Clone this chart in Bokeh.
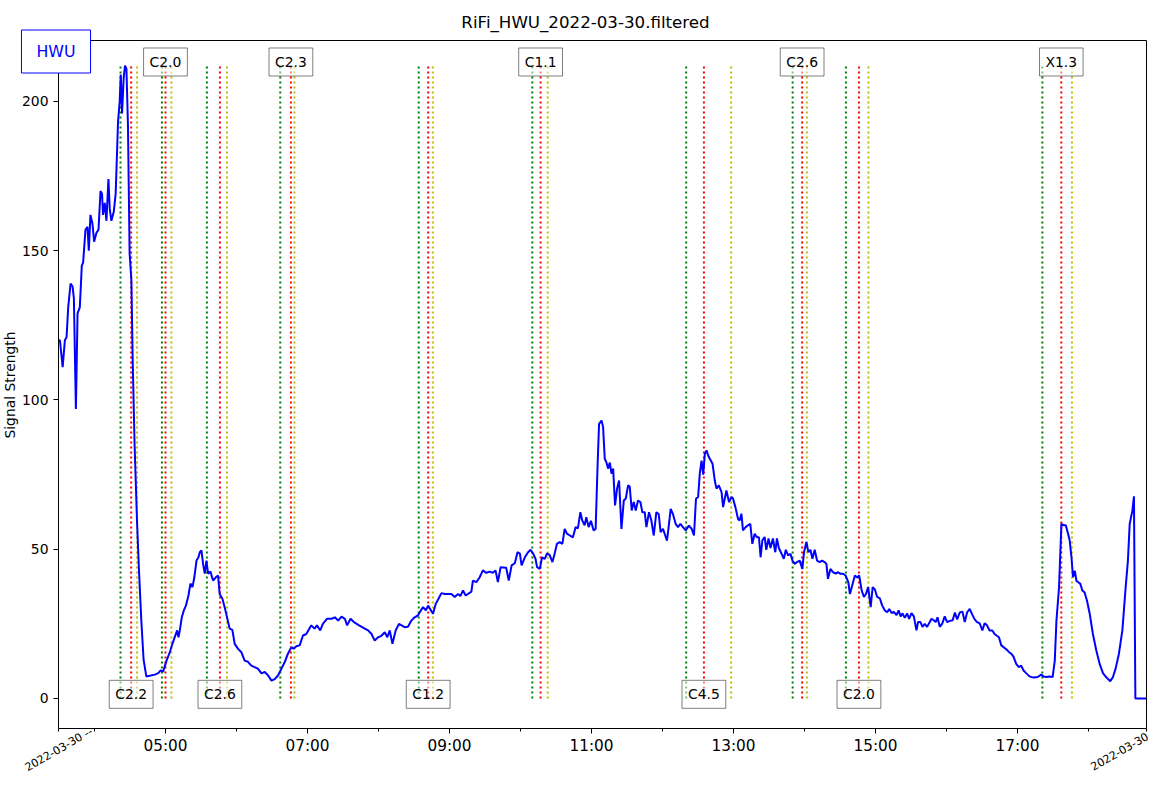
import math
from bokeh.plotting import figure
from bokeh.models import Range1d, FixedTicker, Label, LinearAxis
from bokeh.embed import file_html
from bokeh.resources import INLINE

station = "HWU"
title_text = "RiFi_HWU_2022-03-30.filtered"
date_text = "2022-03-30"
y_label = "Signal Strength"

# time in minutes after 00:00 UTC, signal strength
times = [
    209.6, 210.8, 213.1, 215.0, 216.4, 217.8, 219.8, 221.5, 222.6, 224.3,
    225.7, 227.6, 229.3, 230.4, 232.4, 234.1, 235.2, 236.6, 238.3, 239.7,
    241.7, 243.4, 245.1, 246.4, 247.2, 248.7, 250.1, 251.8, 252.9, 254.3,
    256.3, 257.9, 259.9, 261.3, 262.2, 263.3, 264.7, 265.8, 267.0, 268.3,
    269.7, 271.2, 272.3, 273.9, 275.9, 277.6, 279.6, 281.5, 283.8, 286.6,
    291.0, 293.9, 295.9, 298.0, 300.9, 303.7, 305.9, 308.2, 309.9, 311.0,
    312.1, 313.8, 315.5, 317.2, 319.4, 321.1, 322.8, 324.4, 326.2, 327.9,
    329.0, 330.4, 331.8, 333.2, 334.6, 336.0, 338.0, 340.2, 342.5, 344.4,
    345.8, 348.1, 350.0, 352.0, 354.2, 356.5, 358.5, 361.2, 364.1, 366.9,
    369.7, 372.5, 375.3, 378.1, 381.1, 383.9, 386.7, 389.6, 392.3, 395.1,
    398.0, 400.8, 403.5, 406.4, 408.3, 410.6, 413.4, 416.2, 419.0, 423.2,
    426.0, 428.0, 430.8, 433.0, 436.4, 440.4, 443.2, 445.9, 448.8, 451.6,
    453.5, 456.4, 459.2, 463.6, 468.4, 471.2, 474.1, 476.8, 479.6, 482.5,
    485.3, 487.5, 489.5, 491.8, 494.5, 497.3, 502.1, 504.9, 507.8, 510.5,
    513.3, 515.8, 517.7, 520.0, 521.9, 526.1, 528.4, 530.7, 533.2, 536.0,
    541.6, 544.4, 547.2, 549.2, 551.4, 553.7, 558.5, 559.8, 562.7, 565.5,
    568.2, 571.1, 573.9, 576.7, 578.9, 580.9, 583.2, 587.9, 590.1, 592.5,
    595.2, 597.5, 599.5, 600.9, 603.7, 606.4, 608.5, 610.7, 612.7, 614.0,
    616.3, 618.2, 620.5, 622.4, 624.7, 627.0, 628.9, 630.8, 633.1, 635.4,
    637.3, 639.3, 641.6, 644.3, 646.6, 648.5, 650.6, 652.2, 654.2, 655.6,
    657.6, 659.5, 661.8, 663.5, 665.1, 666.4, 668.5, 669.8, 671.2, 672.7,
    674.0, 675.5, 676.9, 678.3, 679.9, 681.6, 683.3, 685.3, 687.3, 689.0,
    690.9, 692.3, 694.0, 695.7, 697.4, 699.3, 701.3, 703.0, 705.0, 706.4,
    708.6, 710.6, 712.6, 714.8, 716.8, 718.4, 720.4, 721.8, 723.8, 725.5,
    726.9, 728.8, 731.1, 733.1, 735.1, 737.3, 739.6, 742.3, 744.7, 746.6,
    748.3, 750.1, 751.5, 753.0, 754.4, 755.8, 757.2, 758.6, 760.0, 762.3,
    764.2, 765.6, 767.6, 769.9, 771.2, 772.6, 774.0, 776.2, 778.3, 779.6,
    781.6, 783.8, 785.2, 786.7, 788.0, 790.3, 792.2, 794.2, 795.9, 797.9,
    799.8, 801.5, 802.9, 804.4, 806.3, 807.7, 809.6, 811.3, 813.3, 815.3,
    816.7, 818.3, 820.6, 822.5, 824.2, 826.1, 828.1, 829.8, 831.7, 833.7,
    835.9, 838.2, 839.6, 841.6, 843.3, 845.0, 846.7, 848.6, 850.6, 852.8,
    854.9, 857.0, 858.5, 859.8, 861.9, 864.0, 866.3, 868.3, 870.2, 872.6,
    874.7, 877.0, 878.4, 880.7, 882.6, 884.6, 886.2, 888.3, 890.2, 891.9,
    893.8, 895.9, 897.6, 899.5, 901.4, 903.7, 905.6, 907.9, 909.9, 911.6,
    913.6, 915.5, 917.8, 919.5, 921.2, 922.8, 924.8, 926.7, 928.4, 930.4,
    932.4, 934.6, 936.0, 938.0, 939.7, 941.6, 943.6, 945.9, 947.3, 949.2,
    950.9, 952.4, 954.3, 956.3, 958.5, 960.5, 962.8, 965.2, 967.1, 969.0,
    971.2, 973.5, 975.4, 977.4, 979.6, 981.9, 983.8, 985.8, 988.0, 990.3,
    992.2, 994.2, 996.4, 998.7, 1000.6, 1002.6, 1004.3, 1006.3, 1008.2, 1010.5,
    1012.7, 1014.7, 1016.6, 1018.9, 1021.1, 1023.1, 1025.1, 1027.3, 1030.1, 1033.5,
    1037.1, 1040.0, 1041.9, 1044.4, 1047.0, 1049.7, 1051.5, 1052.9, 1055.1, 1057.1,
    1059.1, 1060.8, 1062.7, 1064.1, 1065.6, 1066.9, 1068.4, 1069.8, 1071.1, 1073.1,
    1074.8, 1076.7, 1078.7, 1081.0, 1083.7, 1086.6, 1089.4, 1092.2, 1095.0, 1098.4,
    1100.6, 1102.9, 1105.7, 1108.6, 1111.4, 1113.3, 1114.8, 1117.1, 1118.4, 1119.6,
    1129.0,
]
signal = [
    120, 120, 111, 120, 121, 131, 139, 138, 134, 97,
    129, 131, 145, 146, 157, 158, 150, 162, 159, 153,
    156, 157, 170, 169, 162, 166, 160, 174, 164, 160,
    163, 169, 193, 200, 209, 196, 208, 212, 211, 192,
    149, 140, 113, 85, 60, 43, 26, 13, 7.4, 7.6,
    8, 8.5, 9.4, 9, 12.7, 15.5, 18.4, 21, 22.8, 20.5,
    22.8, 27.2, 29.5, 31, 34.5, 38.5, 37.3, 40.6, 46.2, 47.3,
    49, 49.6, 45, 41.8, 46.2, 41.8, 42.5, 39.5, 40.6, 41.2,
    35, 33.4, 30.6, 27.2, 23.4, 23, 18.3, 16.7, 15.5, 12.7,
    12.3, 11, 10.5, 10, 8.4, 8.9, 7.7, 6, 6.5, 7.7,
    10, 12.2, 15, 17.2, 16.7, 17.5, 17.8, 21.1, 21.6, 24.5,
    23.4, 24.5, 22.8, 25, 26.7, 26.7, 27.2, 26.1, 27.4, 26.7,
    24.5, 26.7, 25.6, 24.5, 23.4, 22.8, 21.6, 19.4, 20.5, 21,
    22.2, 20.5, 22.8, 18.3, 22.8, 25, 23.9, 24, 26.1, 27.2,
    27.8, 29.5, 30.6, 29.5, 31.1, 28.4, 31.7, 33.4, 35.3, 35,
    35, 34, 35, 34.3, 36.2, 34.5, 35.8, 39.5, 39, 40.6,
    42.9, 42.1, 42.5, 42.1, 42.9, 39, 44, 43.8, 39.5, 44.6,
    45.3, 49, 48.5, 44.6, 47.3, 49, 49.8, 48.5, 46.8, 44,
    43.4, 47.3, 46.8, 48.6, 48, 45.7, 48.6, 51.8, 52.4, 51.8,
    56.8, 55.2, 54.6, 54, 57.4, 57, 62.4, 59.6, 58, 60.7,
    57.4, 59.5, 56.3, 56.8, 77.5, 92, 93.1, 90.9, 80.3, 79,
    77, 79, 75.3, 77, 64.7, 70.3, 73, 56.8, 66.3, 67,
    71.4, 71, 63, 65.8, 63, 66.3, 65.8, 62.4, 62.4, 57.4,
    62.4, 59.6, 54.6, 62.4, 61.8, 55.7, 56.8, 55.2, 52.9, 58.5,
    63.5, 61.8, 58.5, 57.4, 58.5, 57.4, 56.3, 57.9, 56.8, 54.6,
    66.9, 67.5, 75.3, 79.7, 75, 82, 83.1, 81.4, 80.3, 78.6,
    73, 70.3, 71.4, 69.1, 64.1, 66.9, 69.7, 65.8, 67.5, 67,
    64.1, 60.2, 59.6, 61.9, 56.3, 57.4, 58, 58.5, 51.8, 55.2,
    54, 54, 47.3, 53, 54.1, 49.8, 53.6, 50.4, 53.6, 49,
    53.6, 50.4, 48.5, 46.8, 49.8, 47.9, 48.5, 46.2, 45.1, 45.7,
    46.2, 43.4, 49, 52.4, 49, 49.8, 46.8, 49.8, 46.2, 45.7,
    46.2, 45.7, 45.1, 40.1, 43.4, 42.3, 41.8, 42.3, 41.8, 41.8,
    41.2, 39, 35, 38.4, 41.2, 40.5, 41.2, 36.2, 34, 35,
    37.3, 30.6, 37.3, 36.5, 34, 33.5, 31.2, 29.5, 28.9, 30,
    28.6, 29, 27.9, 29.5, 27.5, 28.5, 27, 28.5, 26.7, 28.6,
    27.5, 22.8, 25.6, 25.6, 24, 25, 24, 25.6, 26.7, 26.2,
    25.6, 27.2, 24, 25, 27.5, 25.6, 26, 26.2, 28.8, 26.5,
    28.8, 29.1, 25.6, 28.8, 30, 28, 26.5, 25.6, 25.2, 22.8,
    25.2, 24.5, 22.8, 22.8, 21.6, 21, 20.5, 17.8, 17.2, 16.5,
    15.6, 15, 14, 11.6, 10.5, 11, 9.4, 8.5, 7.4, 7,
    7.2, 8, 7.4, 7.2, 7.4, 7.2, 12.7, 26.1, 37.3, 58.5,
    58, 58, 55.2, 52.9, 47.3, 40.6, 42.8, 39.4, 39, 38.4,
    36.2, 35.5, 32.8, 28.4, 21.6, 16.1, 11.6, 8.5, 7.1, 5.8,
    7.1, 10, 15, 22.8, 37.3, 46.2, 58.5, 63, 67.7, 0,
    0,
]

# flares (GOES class, start / peak / end in minutes after 00:00 UTC)
flare_class = ["C2.2", "C2.0", "C2.6", "C2.3", "C1.2", "C1.1", "C4.5", "C2.6", "C2.0", "X1.3"]
flare_start = [262, 297, 335, 397, 514, 610, 740, 830, 875, 1041]
flare_peak = [271, 300, 346, 406, 522, 617, 755, 838, 886, 1057]
flare_end = [276, 305, 352, 409, 526, 623, 778, 842, 894, 1066]

major_ticks = [300, 420, 540, 660, 780, 900, 1020]
minor_hours = [240, 360, 480, 600, 720, 840, 960, 1080]
y_ticks = [0, 50, 100, 150, 200]

FONT = "DejaVu Sans"

# layout: canvas size and the axes box inside it (pixels)
W, H = 1153, 776
BOX_L, BOX_R, BOX_T, BOX_B = 58, 1146, 40, 728

x_lo, x_hi = times[0], times[-1]
y_lo, y_hi = -10.05, 220.4
ppx = (BOX_R - BOX_L) / (x_hi - x_lo)
ppy = (BOX_B - BOX_T) / (y_hi - y_lo)

p = figure(width=W, height=H, output_backend="svg", toolbar_location=None,
           x_range=Range1d(x_lo - BOX_L / ppx, x_hi + (W - BOX_R) / ppx),
           y_range=Range1d(y_lo - (H - BOX_B) / ppy, y_hi + BOX_T / ppy),
           x_axis_type=None, y_axis_type=None,
           min_border_left=0, min_border_right=0, min_border_top=0, min_border_bottom=0,
           title=None)
p.background_fill_color = "white"
p.border_fill_color = "white"
p.outline_line_color = None

def style_axis(ax, size):
    ax.major_tick_in = 0
    ax.minor_tick_in = 0
    ax.major_label_text_font = FONT
    ax.major_label_text_font_size = size
    ax.major_label_text_color = "black"
    ax.axis_line_color = "black"
    ax.axis_line_width = 1
    ax.major_tick_line_color = "black"
    ax.minor_tick_line_color = "black"

xa = LinearAxis(fixed_location=y_lo, bounds=(x_lo, x_hi),
                ticker=FixedTicker(ticks=major_ticks, minor_ticks=[x_lo] + minor_hours + [x_hi]))
style_axis(xa, "15.3px")
xa.major_label_overrides = {t: f"{t // 60:02d}:00" for t in major_ticks}
xa.major_tick_out = 5
xa.minor_tick_out = 3
xa.major_label_standoff = 3
p.add_layout(xa, "below")

ya = LinearAxis(fixed_location=x_lo, bounds=(y_lo, y_hi), ticker=FixedTicker(ticks=y_ticks))
style_axis(ya, "13.9px")
ya.major_tick_out = 5
ya.minor_tick_out = 0
ya.major_label_standoff = 5
p.add_layout(ya, "left")

# top and right spines of the axes box
top = LinearAxis(fixed_location=y_hi, bounds=(x_lo, x_hi), ticker=FixedTicker(ticks=[]))
style_axis(top, "1px")
top.major_tick_out = 0
top.minor_tick_out = 0
p.add_layout(top, "above")
right = LinearAxis(fixed_location=x_hi, bounds=(y_lo, y_hi), ticker=FixedTicker(ticks=[]))
style_axis(right, "1px")
right.major_tick_out = 0
right.minor_tick_out = 0
p.add_layout(right, "right")

ymax = max(signal)
n = len(flare_class)
for xs, col in ((flare_start, "green"), (flare_peak, "red"), (flare_end, "#bfbf00")):
    p.segment(x0=xs, y0=[0] * n, x1=xs, y1=[ymax] * n, line_color=col,
              line_width=2, line_dash="2 3")

p.line(times, signal, line_color="blue", line_width=2)

for i, (cls, pk) in enumerate(zip(flare_class, flare_peak)):
    yv = 213.2 if i % 2 == 1 else 1.4
    p.add_layout(Label(x=pk, y=yv, text=cls, text_align="center", text_baseline="middle",
                       text_font=FONT, text_font_size="13.9px", text_color="black",
                       background_fill_color="white", background_fill_alpha=0.5,
                       border_line_color="black", border_line_alpha=0.5, border_line_width=1,
                       padding=(6, 6)))

def canvas_text(x, y, text, size, color="black", angle=0.0, **kw):
    p.add_layout(Label(x=x, y=y, x_units="canvas", y_units="canvas", text=text,
                       angle=angle, text_align="center", text_baseline="middle",
                       text_font=FONT, text_font_size=size, text_color=color, **kw))

canvas_text(585, 22, title_text, "16.67px")
canvas_text(9.5, 384.5, y_label, "13.9px", angle=math.pi / 2)
canvas_text(58.3, 749, date_text + " --", "11.1px", angle=math.pi / 6)
canvas_text(1119, 751, date_text, "11.1px", angle=math.pi / 6)
canvas_text(55.5, 51, station, "15.8px", color="blue", level="overlay",
            background_fill_color="white", background_fill_alpha=1,
            border_line_color="blue", border_line_width=1, padding=(15, 12))

open("out.html", "w").write(file_html(p, INLINE))
